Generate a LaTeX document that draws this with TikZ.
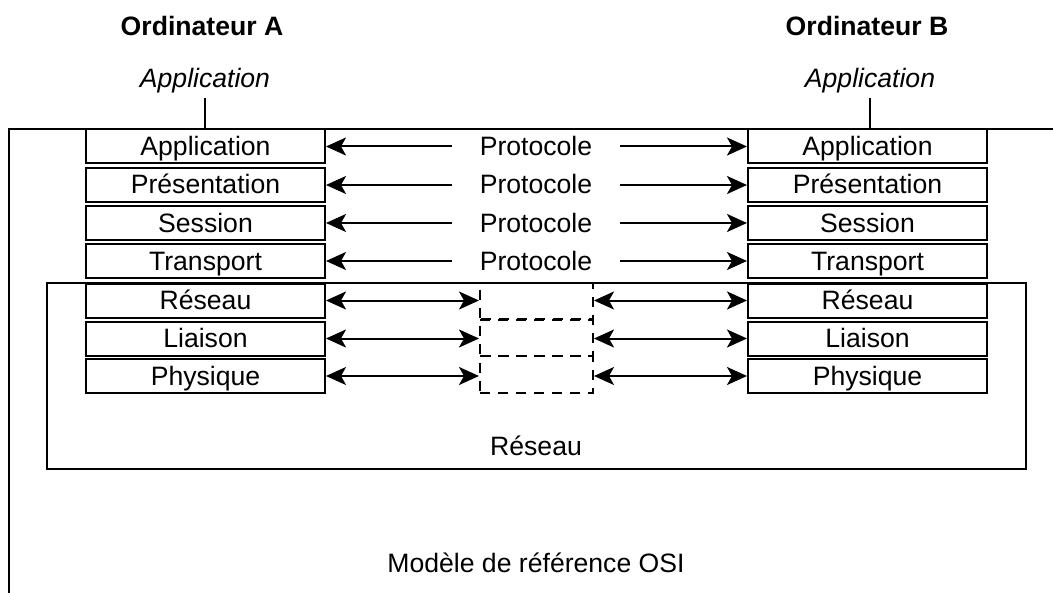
\documentclass[tikz,border=0pt]{standalone}
\usepackage{fontspec}
\setmainfont{Liberation Sans}
\usetikzlibrary{arrows.meta, positioning}

\begin{document}
\begin{tikzpicture}[x=0.5pt, y=-0.5pt,
    every node/.style={font=\fontsize{13.3}{16}\selectfont, text height=10.6pt, text depth=1.6pt},
    couche/.style={draw, line width=1pt, minimum width=119.5pt, minimum height=17pt, inner sep=0pt},
    relais/.style={draw, line width=1pt, dash pattern=on 5pt off 4pt, minimum width=56.5pt, minimum height=18.5pt, inner sep=0pt},
    fleche/.style={line width=1pt, -{Stealth[length=10pt,width=9pt,inset=2.5pt]}},
    fleches/.style={line width=1pt, {Stealth[length=10pt,width=9pt,inset=2.5pt]}-{Stealth[length=10pt,width=9pt,inset=2.5pt]}}]
    \useasboundingbox (0,0) rectangle (1053,593);

    % titres
    \node[font=\fontsize{13.3}{16}\selectfont\bfseries] (ordA) at (202,27) {Ordinateur A};
    \node[font=\fontsize{13.3}{16}\selectfont\bfseries] (ordB) at (867,27) {Ordinateur B};
    \node[font=\fontsize{13.3}{16}\selectfont\itshape] (appA) at (205,79) {Application};
    \node[font=\fontsize{13.3}{16}\selectfont\itshape] (appB) at (870,79) {Application};

    % cadre OSI
    \coordinate (cadreHG) at (9,129);
    \coordinate (cadreHD) at (1053,129);
    \coordinate (cadreBG) at (9,593);
    \draw[line width=1pt] (cadreBG) -- (cadreHG) -- (cadreHD);

    % cadre reseau
    \draw[line width=1pt] (47,283) rectangle (1026,469);

    % couches
    \foreach \nom/\y/\i in {Application/146.5/1, Présentation/185/2, Session/223/3, Transport/261/4,
                          Réseau/300.5/5, Liaison/338.5/6, Physique/376/7}
    {
      \node[couche] (gA\i) at (205.5,\y) {\nom};
      \node[couche] (gB\i) at (867.5,\y) {\nom};
    }

    % protocoles pair a pair
    \foreach \i in {1,2,3,4}
    {
      \node[inner xsep=13.5pt] (p\i) at (536,{(\i==1)*146.5+(\i==2)*185+(\i==3)*223+(\i==4)*261}) {Protocole};
      \draw[fleche] (p\i) -- (gA\i);
      \draw[fleche] (p\i) -- (gB\i);
    }

    % relais
    \node[relais] (r5) at (536.5,301) {};
    \node[relais] (r6) at (536.5,337.5) {};
    \node[relais] (r7) at (536.5,374.5) {};
    \foreach \i in {5,6,7}
    {
      \draw[fleches] (gA\i) -- (gA\i -| r\i.west);
      \draw[fleches] (gB\i) -- (gB\i -| r\i.east);
    }

    \draw[line width=1pt] (appA.south) -- (appA.south |- cadreHG);
    \draw[line width=1pt] (appB.south) -- (appB.south |- cadreHG);

    \node (reseau) at (536,446) {Réseau};
    \node (osi) at (536,563) {Modèle de référence OSI};
\end{tikzpicture}
\end{document}
